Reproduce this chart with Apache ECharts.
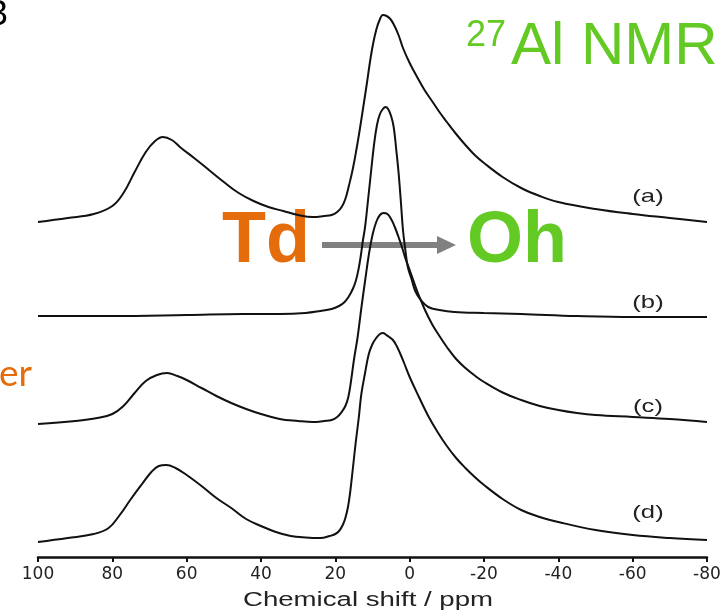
<!DOCTYPE html>
<html>
<head>
<meta charset="utf-8">
<script src="https://cdn.jsdelivr.net/npm/echarts@6/dist/echarts.min.js"></script>
<style>
html,body{margin:0;padding:0;background:#fff;}
#chart{width:725px;height:612px;}
</style>
</head>
<body>
<div id="chart"></div>
<script>
// Chemical shift (ppm) and stacked intensity (arbitrary units, offset per trace)
const ppmA = [100, 92, 85, 80, 77, 74, 71, 68.5, 66.4, 64, 61.5, 58, 54, 50, 46, 42, 38, 34, 30, 26, 23, 21, 19.5, 18.3, 17.3, 16.3, 15.3, 14.3, 13.4, 12.4, 11.5, 10.6, 9.8, 9, 8.2, 7.2, 6.2, 5.2, 4.2, 3, 1.8, 0, -2, -4, -6, -8, -10, -12.5, -15, -17.5, -20, -25, -30, -35, -40, -50, -60, -70, -80];
const intA = [335, 339, 343, 351, 364, 385, 405, 416, 420, 417, 409, 399, 387, 375, 364, 356, 350, 346, 342, 340, 341, 342, 345, 350, 358, 372, 388, 408, 428, 452, 474, 497, 514, 527, 536, 542, 541, 538, 532, 522, 509, 494, 480, 467, 456, 445, 435, 423, 412, 402, 394, 380, 369, 361, 355, 348, 343, 339, 335];

const ppmB = [100, 80, 60, 45, 35, 28, 24, 21, 19, 17.5, 16.3, 15.3, 14.5, 13.8, 13.2, 12.6, 12, 11.2, 10.4, 9.6, 8.8, 8, 7.2, 6.5, 5.8, 5, 4.3, 3.6, 3, 2.4, 1.8, 1.2, 0.5, -0.5, -1.5, -3, -5, -8, -12, -20, -30, -45, -60, -80];
const intB = [241, 241, 242, 243, 243, 244, 246, 248, 251, 255, 261, 268, 276, 287, 300, 316, 330, 357, 385, 412, 432, 443, 448, 450, 448, 441, 430, 407, 385, 357, 327, 308, 290, 278, 266, 257, 250, 247, 245, 244, 243, 241, 240, 240];

const ppmC = [100, 90, 84, 80, 77, 74, 71, 68, 65.3, 62.5, 60, 56, 52, 48, 44, 40, 35, 30, 26, 23, 21, 19.5, 18.3, 17.3, 16.5, 15.7, 15, 14, 13, 12, 11, 10, 9, 8, 7, 6, 5, 4, 3, 2, 1, 0, -2, -4, -6, -8, -10, -12.5, -15, -17.5, -20, -25, -30, -35, -40, -45, -50, -60, -70, -80];
const intC = [133, 136, 139, 143, 151, 164, 176, 182, 184, 181, 177, 169, 161, 154, 148, 143, 138, 136, 135, 136, 137, 140, 145, 151, 160, 178, 197, 220, 249, 276, 302, 322, 335, 342, 344, 343, 338, 330, 320, 309, 297, 287, 266, 248, 233, 221, 210, 198, 189, 181.5, 175, 164.5, 157, 151, 147, 144, 142, 140, 138, 135];

const ppmD = [100, 92, 85, 81, 78, 75, 72, 69.5, 67.5, 65.5, 63, 60, 56, 52, 48, 44, 40, 36, 32, 28, 24, 21.5, 20, 19, 18, 17.3, 16.6, 16, 15.3, 14.5, 13.7, 13, 12, 11, 10, 9, 8, 7.2, 6.3, 5.5, 4.5, 3.5, 2.5, 1.5, 0, -2.5, -5, -7.5, -10, -12.5, -15, -17.5, -20, -25, -30, -35, -40, -50, -60, -70, -80];
const intD = [15, 19, 23, 29, 42, 58, 73, 85, 91, 92, 89, 82, 71, 59, 49, 38, 31, 25, 21, 19.5, 19, 21, 23, 26, 32, 39, 50, 65, 88, 115, 139, 163, 184, 203, 213, 219, 223, 224, 222, 220, 217, 211, 203, 194, 180, 160, 141, 125, 111, 99, 89, 80, 72, 58, 47, 40, 35, 27, 22, 19, 17];

const traceNames = ['(a)', '(b)', '(c)', '(d)'];
const xTicks = [100, 80, 60, 40, 20, 0, -20, -40, -60, -80];
const axisTitle = 'Chemical shift / ppm';

const zip = (xs, ys) => xs.map((x, i) => [x, ys[i]]);
const traces = [zip(ppmA, intA), zip(ppmB, intB), zip(ppmC, intC), zip(ppmD, intD)];

const chart = echarts.init(document.getElementById('chart'), null, {renderer: 'canvas'});

const labelY = [197, 303, 407, 513];
const orange = '#E46C0A';
const green = '#63C923';

const graphics = [
  {type: 'text', x: -14, y: 14, style: {text: 'B', x: 0, y: 0, font: '34px Lato', fill: '#000', verticalAlign: 'middle'}},
  {type: 'text', x: -1, y: 374, style: {text: 'er', x: 0, y: 0, font: '37px Lato', fill: orange, verticalAlign: 'middle'}},
  {type: 'text', x: 466, y: 36, style: {text: '27', x: 0, y: 0, font: '36px "Liberation Sans"', fill: green, verticalAlign: 'middle'}},
  {type: 'text', x: 511, y: 47, style: {text: 'Al NMR', x: 0, y: 0, font: '60px "Liberation Sans"', fill: green, verticalAlign: 'middle'}},
  {type: 'text', x: 222, y: 242, style: {text: 'Td', x: 0, y: 0, font: 'bold 72px "Liberation Sans"', fill: orange, verticalAlign: 'middle'}},
  {type: 'text', x: 467, y: 242, style: {text: 'Oh', x: 0, y: 0, font: 'bold 72px "Liberation Sans"', fill: green, verticalAlign: 'middle'}},
  {type: 'line', shape: {x1: 322, y1: 245, x2: 440, y2: 245}, style: {stroke: '#808080', lineWidth: 6}},
  {type: 'polygon', shape: {points: [[437, 236], [456, 245], [437, 254]]}, style: {fill: '#808080'}},
  {type: 'text', x: 368, y: 600, scaleX: 1.38, style: {text: axisTitle, x: 0, y: 0, font: '20px "Liberation Sans"', fill: '#222', align: 'center', verticalAlign: 'middle'}}
];
traceNames.forEach((t, i) => {
  graphics.push({type: 'text', x: 648, y: labelY[i], scaleX: 1.35, style: {text: t, x: 0, y: 0, font: '19px "Liberation Sans"', fill: '#222', align: 'center', verticalAlign: 'middle'}});
});

chart.setOption({
  animation: false,
  backgroundColor: '#fff',
  grid: {left: 38, right: 18, top: 0, bottom: 55},
  xAxis: {
    type: 'value', inverse: true, min: -80, max: 100, interval: 20,
    axisLine: {show: true, lineStyle: {color: '#111', width: 2.5}},
    axisTick: {show: true, inside: false, length: 5, lineStyle: {color: '#111', width: 2}},
    axisLabel: {
      margin: 9, color: '#222', fontFamily: 'DejaVu Sans', fontSize: 17,
      formatter: v => (xTicks.indexOf(v) >= 0 ? String(v) : '')
    },
    splitLine: {show: false}
  },
  yAxis: {type: 'value', min: 0, max: 557, show: false},
  series: traces.map((d, i) => ({
    name: traceNames[i], type: 'line', data: d, showSymbol: false,
    smooth: 0.4,
    lineStyle: {color: '#111', width: 2}, silent: true
  })),
  graphic: graphics
});
</script>
</body>
</html>
